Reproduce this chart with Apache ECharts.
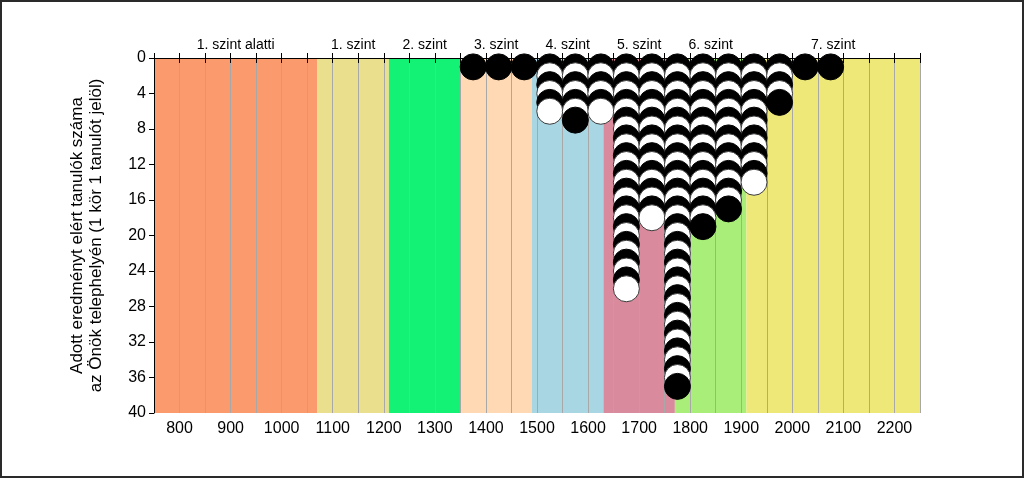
<!DOCTYPE html>
<html>
<head>
<meta charset="utf-8">
<script src="https://cdn.jsdelivr.net/npm/echarts@6/dist/echarts.min.js"></script>
<style>
html,body{margin:0;padding:0;background:#fff;}
#frame{width:1024px;height:478px;box-sizing:border-box;border:2px solid #2a2a2a;position:relative;}
#chart{position:absolute;left:-2px;top:-2px;width:1024px;height:478px;}
</style>
</head>
<body>
<div id="frame"><div id="chart"></div></div>
<script>
// Score bands (levels)
const bandNames  = ['1. szint alatti', '1. szint', '2. szint', '3. szint', '4. szint', '5. szint', '6. szint', '7. szint'];
const bandStarts = [750, 1070, 1210, 1350, 1490, 1630, 1770, 1910];
const bandEnds   = [1070, 1210, 1350, 1490, 1630, 1770, 1910, 2250];
const bandColors = ['#FB9A6C', '#EADF8C', '#14F275', '#FFD9B3', '#A9D6E3', '#D98A9C', '#A8EE78', '#EDE878'];

// Student counts per score column
const columnX      = [1375, 1425, 1475, 1525, 1575, 1625, 1675, 1725, 1775, 1825, 1875, 1925, 1975, 2025, 2075];
const columnCounts = [1, 1, 1, 6, 7, 6, 26, 18, 37, 19, 17, 14, 5, 1, 1];

// Axis ticks
const xMin = 750, xMax = 2250, xStep = 50;
const yMin = 0, yMax = 40, yStep = 4;

const bandData = bandStarts.map((s, i) => [s, bandEnds[i]]);

const dots = [];
columnX.forEach((x, ci) => {
  for (let k = 1; k <= columnCounts[ci]; k++) {
    const black = k % 2 === 1;
    dots.push({
      value: [x, k],
      itemStyle: {
        color: black ? '#000000' : '#ffffff',
        borderColor: black ? '#000000' : '#3a3a3a',
        borderWidth: 1,
        opacity: 1
      }
    });
  }
});

const chart = echarts.init(document.getElementById('chart'), null, {renderer: 'canvas'});
const font = 'Liberation Sans, Arial, sans-serif';
chart.setOption({
  animation: false,
  grid: {left: 154, right: 104, top: 58, bottom: 65},
  xAxis: [{
    type: 'value', position: 'bottom', min: xMin, max: xMax, interval: xStep, z: 1.5,
    axisLine: {show: true, lineStyle: {color: '#000', width: 1}},
    axisTick: {show: true, length: 5, lineStyle: {color: '#000'}},
    axisLabel: {
      fontFamily: font, fontSize: 16, color: '#000', margin: 8,
      formatter: v => (v % 100 === 0 ? String(v) : ''),
      showMinLabel: true, showMaxLabel: true
    },
    splitLine: {show: true, lineStyle: {color: '#a8a8a8', width: 1}}
  }, {
    type: 'value', position: 'top', min: xMin, max: xMax, interval: xStep, z: 1.5,
    axisLine: {show: true, lineStyle: {color: '#000', width: 1}},
    axisTick: {show: true, length: 5, lineStyle: {color: '#000'}},
    axisLabel: {show: false},
    splitLine: {show: false}
  }],
  yAxis: {
    type: 'value', inverse: true, min: yMin, max: yMax, interval: yStep, z: 1.5,
    name: 'Adott eredményt elért tanulók száma\naz Önök telephelyén (1 kör 1 tanulót jelöl)',
    nameLocation: 'middle', nameRotate: 90, nameGap: 48,
    nameTextStyle: {fontFamily: font, fontSize: 17, color: '#000', lineHeight: 19},
    axisLine: {show: true, lineStyle: {color: '#000', width: 1}},
    axisTick: {show: true, length: 5, lineStyle: {color: '#000'}},
    axisLabel: {fontFamily: font, fontSize: 16, color: '#000', margin: 8},
    splitLine: {show: false}
  },
  series: [{
    type: 'custom',
    z: 1,
    silent: true,
    data: bandData,
    encode: {x: [0, 1]},
    renderItem: (params, api) => {
      const i = params.dataIndex;
      const p0 = api.coord([api.value(0), yMin]);
      const p1 = api.coord([api.value(1), yMax]);
      const cs = params.coordSys;
      return {
        type: 'group',
        children: [{
          type: 'rect',
          shape: {x: p0[0], y: cs.y, width: p1[0] - p0[0], height: cs.height},
          style: {fill: bandColors[i]}
        }, {
          type: 'text',
          x: (p0[0] + p1[0]) / 2, y: cs.y - 6,
          style: {text: bandNames[i], fill: '#000', font: '14px ' + font, align: 'center', verticalAlign: 'bottom'}
        }]
      };
    }
  }, {
    type: 'scatter',
    z: 3,
    symbol: 'circle',
    symbolSize: 26,
    data: dots
  }]
});
</script>
</body>
</html>
